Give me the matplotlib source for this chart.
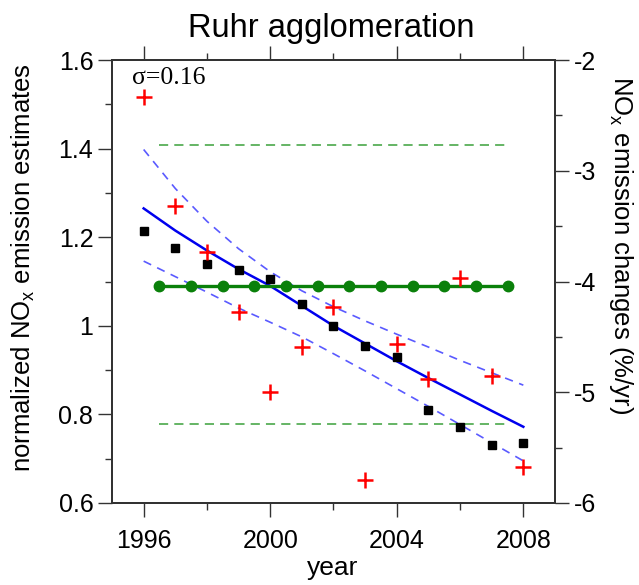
#------------------------------------------------------------------------------
#   Ruhr agglomeration: normalized NOx emission estimates and trend
#------------------------------------------------------------------------------
import matplotlib.pyplot as plt
import numpy as np
from matplotlib.ticker import MultipleLocator

years = np.arange(1996, 2009)

# black squares and red crosses (left axis)
est_squares = [1.215, 1.175, 1.14, 1.125, 1.105, 1.05, 1.0, 0.955, 0.929, 0.81, 0.771, 0.732, 0.735]
est_crosses = [1.516, 1.271, 1.167, 1.032, 0.85, 0.953, 1.043, 0.653, 0.958, 0.88, 1.109, 0.887, 0.682]

# fitted curve and its band (left axis)
fit_mid = [1.265, 1.215, 1.17, 1.128, 1.09, 1.045, 1.0, 0.96, 0.92, 0.882, 0.845, 0.808, 0.772]
fit_upper = [1.398, 1.31, 1.236, 1.174, 1.122, 1.079, 1.043, 1.011, 0.981, 0.952, 0.922, 0.894, 0.866]
fit_lower = [1.146, 1.111, 1.076, 1.04, 1.008, 0.975, 0.937, 0.898, 0.858, 0.818, 0.777, 0.736, 0.695]

# trend (right axis, %/yr)
trend_x = [1996.5, 1997.5, 1998.5, 1999.5, 2000.5, 2001.5, 2002.5, 2003.5, 2004.5, 2005.5, 2006.5, 2007.5]
trend_val = [-4.04] * 12
trend_hi = -2.77
trend_lo = -5.29

sigma_text = "\u03c3=0.16"

def main() -> None:
    plt.rcParams['font.family'] = ['Liberation Sans', 'DejaVu Sans']
    plt.rcParams['axes.unicode_minus'] = False
    fig = plt.figure(figsize=(6.39, 5.85), dpi=100)
    ax = fig.add_axes([0.1753, 0.1402, 0.6932, 0.7572])
    ax2 = ax.twinx()

    ax.plot(years, fit_upper, '--', color='#5a5aff', lw=1.2, dashes=(5, 4), zorder=2)
    ax.plot(years, fit_lower, '--', color='#5a5aff', lw=1.2, dashes=(5, 4), zorder=2)
    ax.plot(years, fit_mid, '-', color='#0000ee', lw=1.8, zorder=3)

    ax2.plot([trend_x[0], trend_x[-1]], [trend_hi, trend_hi], '--', color='#3aa03a', lw=1.1, dashes=(6, 4))
    ax2.plot([trend_x[0], trend_x[-1]], [trend_lo, trend_lo], '--', color='#3aa03a', lw=1.1, dashes=(6, 4))
    ax2.plot(trend_x, trend_val, '-o', color='#0a800a', lw=2.4, ms=7.5, zorder=3)

    ax2.plot(years, est_squares, 's', color='black', ms=6, zorder=5,
             transform=ax.transData)
    ax2.plot(years, est_crosses, '+', color='red', ms=12, mew=1.8, zorder=6,
             transform=ax.transData)

    ax.set_xlim(1995, 2009)
    ax.set_ylim(0.6, 1.6)
    ax2.set_ylim(-6, -2)

    ax.set_xticks([1996, 2000, 2004, 2008])
    ax.xaxis.set_minor_locator(MultipleLocator(2))
    ax.set_yticks([0.6, 0.8, 1.0, 1.2, 1.4, 1.6])
    ax.set_yticklabels(['0.6', '0.8', '1', '1.2', '1.4', '1.6'])
    ax.yaxis.set_minor_locator(MultipleLocator(0.1))
    ax2.set_yticks([-6, -5, -4, -3, -2])
    ax2.yaxis.set_minor_locator(MultipleLocator(0.5))

    ax.tick_params(which='both', direction='out', top=True, labelsize=18,
                   color='#333333', width=1.0)
    ax.tick_params(which='major', length=10)
    ax.tick_params(which='minor', length=5)
    ax.tick_params(axis='x', which='major', pad=9)
    ax2.tick_params(which='both', direction='out', labelsize=18, color='#333333', width=1.0)
    ax2.tick_params(which='major', length=10)
    ax2.tick_params(which='minor', length=5)

    for a in (ax, ax2):
        for s in a.spines.values():
            s.set_linewidth(1.4)
            s.set_color('#333333')

    fig.text(333 / 639, 1 - 568 / 585, "year", fontsize=19, ha='center', va='center')
    fig.text(23 / 639, 1 - 268 / 585, "normalized NO$_\\mathregular{x}$ emission estimates",
             fontsize=18.5, rotation=90, ha='center', va='center')
    fig.text(621 / 639, 1 - 245 / 585, "NO$_\\mathregular{x}$ emission changes (%/yr)",
             fontsize=18.5, rotation=270, ha='center', va='center')
    fig.text(331 / 639, 1 - 37 / 585, "Ruhr agglomeration", fontsize=23.5,
             ha='center', va='baseline')

    ax.text(1995.62, 1.546, sigma_text, family='Liberation Serif', fontsize=18.5,
            va='baseline', ha='left')

    plt.savefig('out.png', dpi=100)

if __name__ == "__main__":
    main()
